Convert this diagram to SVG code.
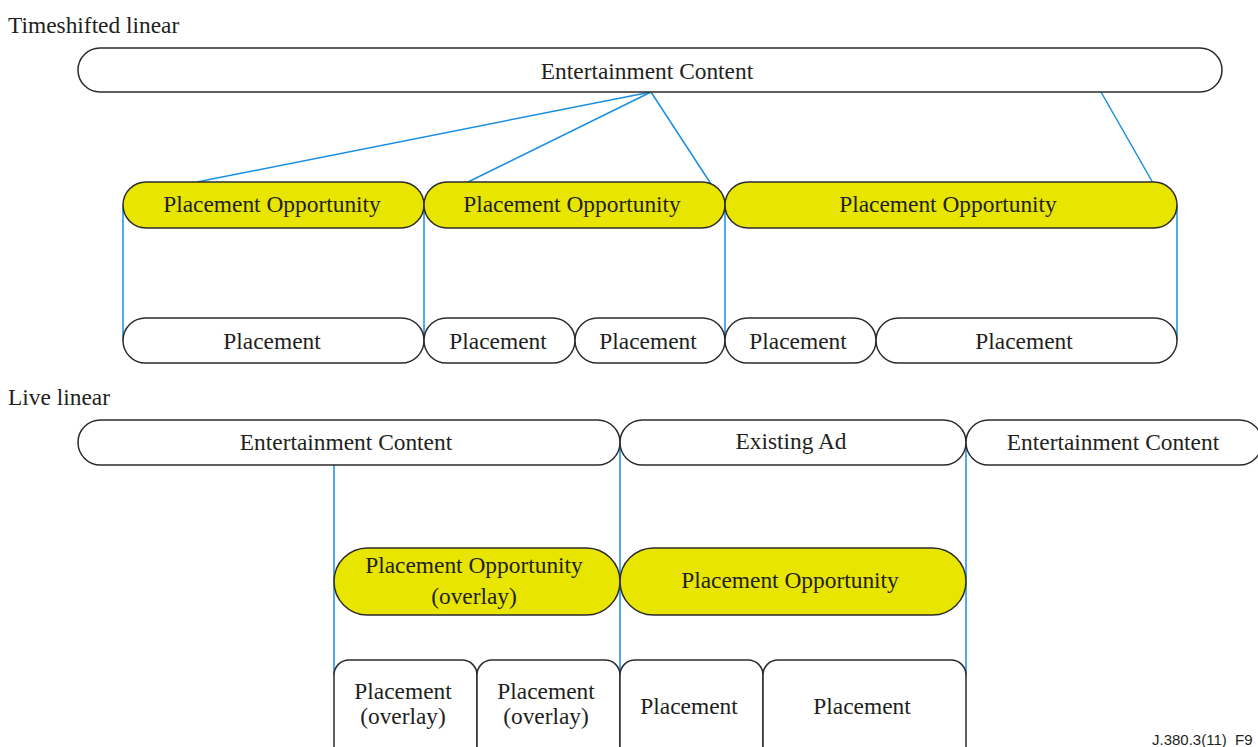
<svg xmlns="http://www.w3.org/2000/svg" width="1258" height="747" viewBox="0 0 1258 747">
<style>
.n{fill:#fff;stroke:#2b2b2b;stroke-width:1.5}
.y{fill:#e8e600;stroke:#2b2b2b;stroke-width:1.5}
.t{font-family:"Liberation Serif",serif;font-size:23.4px;fill:#231f20;text-anchor:middle}
.l{font-family:"Liberation Serif",serif;font-size:23.4px;fill:#231f20}
.c{stroke:#1a8ee0;stroke-width:1.5;fill:none}
</style>
<rect width="1258" height="747" fill="#fff"/>
<text class="l" x="8" y="33">Timeshifted linear</text>
<text class="l" x="8" y="405">Live linear</text>
<g id="connectors">
<line class="c" x1="651" y1="92" x2="197" y2="182"/>
<line class="c" x1="651" y1="92" x2="468" y2="182"/>
<line class="c" x1="651" y1="92" x2="711" y2="184"/>
<line class="c" x1="1101" y1="92" x2="1153" y2="183"/>
<line class="c" x1="123" y1="205" x2="123" y2="340"/>
<line class="c" x1="424" y1="205" x2="424" y2="340"/>
<line class="c" x1="725" y1="205" x2="725" y2="340"/>
<line class="c" x1="1177" y1="205" x2="1177" y2="340"/>
<line class="c" x1="334" y1="465" x2="334" y2="676"/>
<line class="c" x1="620" y1="443" x2="620" y2="676"/>
<line class="c" x1="966" y1="443" x2="966" y2="676"/>
</g>
<g id="ec-top"><rect class="n" x="78" y="48" width="1144" height="44" rx="22"/><text class="t" x="647" y="79">Entertainment Content</text></g>
<g id="po1"><rect class="y" x="123" y="182" width="301" height="46" rx="23"/><text class="t" x="272" y="212">Placement Opportunity</text></g>
<g id="po2"><rect class="y" x="424" y="182" width="301" height="46" rx="23"/><text class="t" x="572" y="212">Placement Opportunity</text></g>
<g id="po3"><rect class="y" x="725" y="182" width="452" height="46" rx="23"/><text class="t" x="948" y="212">Placement Opportunity</text></g>
<g id="p1"><rect class="n" x="123" y="318" width="301" height="45" rx="22.5"/><text class="t" x="272" y="349">Placement</text></g>
<g id="p2"><rect class="n" x="424" y="318" width="151" height="45" rx="22.5"/><text class="t" x="498" y="349">Placement</text></g>
<g id="p3"><rect class="n" x="575" y="318" width="150" height="45" rx="22.5"/><text class="t" x="648" y="349">Placement</text></g>
<g id="p4"><rect class="n" x="725" y="318" width="151" height="45" rx="22.5"/><text class="t" x="798" y="349">Placement</text></g>
<g id="p5"><rect class="n" x="876" y="318" width="301" height="45" rx="22.5"/><text class="t" x="1024" y="349">Placement</text></g>
<g id="ec-live1"><rect class="n" x="78" y="420" width="542" height="45" rx="22.5"/><text class="t" x="346" y="450">Entertainment Content</text></g>
<g id="existing-ad"><rect class="n" x="620" y="420" width="346" height="45" rx="22.5"/><text class="t" x="791" y="449">Existing Ad</text></g>
<g id="ec-live2"><rect class="n" x="966" y="420" width="296" height="45" rx="22.5"/><text class="t" x="1113" y="450">Entertainment Content</text></g>
<g id="po-overlay"><rect class="y" x="334" y="548" width="286" height="67" rx="33.5"/><text class="t" x="474" y="573">Placement Opportunity</text><text class="t" x="474" y="604">(overlay)</text></g>
<g id="po-live"><rect class="y" x="620" y="548" width="346" height="67" rx="33.5"/><text class="t" x="790" y="588">Placement Opportunity</text></g>
<g id="pl1"><rect class="n" x="334" y="660" width="143" height="120" rx="15"/><text class="t" x="403" y="699">Placement</text><text class="t" x="403" y="724">(overlay)</text></g>
<g id="pl2"><rect class="n" x="477" y="660" width="143" height="120" rx="15"/><text class="t" x="546" y="699">Placement</text><text class="t" x="546" y="724">(overlay)</text></g>
<g id="pl3"><rect class="n" x="620" y="660" width="143" height="120" rx="15"/><text class="t" x="689" y="714">Placement</text></g>
<g id="pl4"><rect class="n" x="763" y="660" width="203" height="120" rx="15"/><text class="t" x="862" y="714">Placement</text></g>
<text x="1152" y="745" font-family="Liberation Sans,sans-serif" font-size="15" fill="#231f20">J.380.3(11)_F9</text>
</svg>
